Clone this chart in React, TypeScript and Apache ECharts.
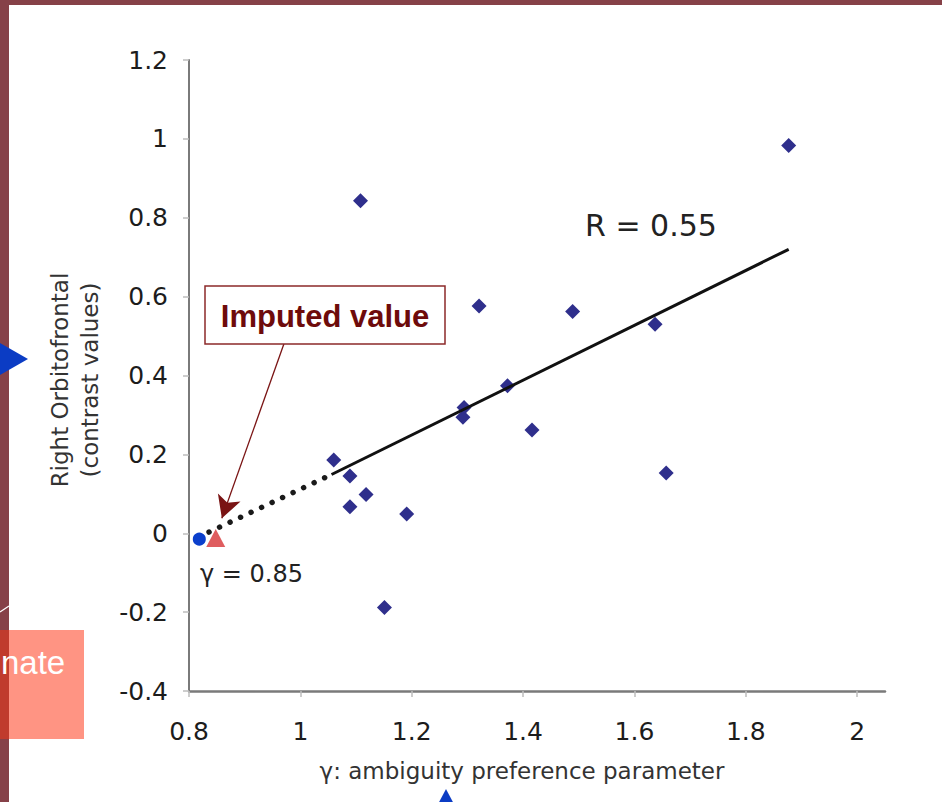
import React, { useEffect, useRef } from 'react';
import * as echarts from 'echarts';

// Subject-level estimates: ambiguity preference (γ) vs. right orbitofrontal contrast
const gammaValues = [1.108, 1.321, 1.489, 1.372, 1.294, 1.292, 1.416, 1.06, 1.089, 1.118, 1.089, 1.191, 1.151, 1.877, 1.637, 1.657];
const orbitofrontalValues = [0.843, 0.576, 0.562, 0.374, 0.319, 0.294, 0.262, 0.186, 0.145, 0.098, 0.067, 0.049, -0.188, 0.983, 0.53, 0.153];

// Axis ticks
const xTickValues = [0.8, 1, 1.2, 1.4, 1.6, 1.8, 2];
const yTickValues = [-0.4, -0.2, 0, 0.2, 0.4, 0.6, 0.8, 1, 1.2];

// Regression line (fitted range) and its extrapolation toward the imputed value
const fitLine = [[1.056, 0.149], [1.877, 0.72]];
const extrapolatedLine = [[0.836, 0.003], [1.05, 0.145]];

// Imputed value (γ = 0.85) and the extrapolated intercept point
const imputedPoint = [0.848, -0.012];
const interceptPoint = [0.8185, -0.015];

// Callout arrow, from the label box down to the imputed value
const arrowStart = [0.972, 0.486];
const arrowEnd = [0.859, 0.038];

const AXIS_FONT = '"DejaVu Sans", Verdana, sans-serif';
const LABEL_FONT = '"Liberation Sans", Arial, Helvetica, sans-serif';
const FRAME = '#864148';

export default function App() {
  const ref = useRef<HTMLDivElement>(null);

  useEffect(() => {
    if (!ref.current) return;
    const chart = echarts.init(ref.current, undefined, { renderer: 'svg' });

    const subjects = gammaValues.map((g, i) => [g, orbitofrontalValues[i]]);

    chart.setOption({
      animation: false,
      backgroundColor: '#ffffff',
      grid: { left: 189, right: 57, top: 60, bottom: 111, containLabel: false },
      xAxis: {
        type: 'value',
        min: 0.8,
        max: 2.05,
        axisLine: { onZero: false, lineStyle: { color: '#7a7a7a', width: 2.5 } },
        axisTick: { show: true, inside: false, length: 6, customValues: xTickValues, lineStyle: { color: '#bdbdbd', width: 1.5 } },
        axisLabel: { customValues: xTickValues, fontFamily: AXIS_FONT, fontSize: 25, color: '#1c1c1c', margin: 28 },
        splitLine: { show: false },
        name: 'γ: ambiguity preference parameter',
        nameLocation: 'middle',
        nameGap: 68,
        nameTextStyle: { fontFamily: AXIS_FONT, fontSize: 23, color: '#333333', padding: [0, 30, 0, 0] },
      },
      yAxis: {
        type: 'value',
        min: -0.4,
        max: 1.2,
        interval: 0.2,
        axisLine: { show: true, onZero: false, lineStyle: { color: '#7a7a7a', width: 2 } },
        axisTick: { show: true, inside: false, length: 6, customValues: yTickValues, lineStyle: { color: '#bdbdbd', width: 1.5 } },
        axisLabel: { customValues: yTickValues, fontFamily: AXIS_FONT, fontSize: 25, color: '#1c1c1c', margin: 21 },
        splitLine: { show: false },
      },
      series: [
        {
          name: 'Subjects',
          type: 'scatter',
          data: subjects,
          symbol: 'diamond',
          symbolSize: 15,
          itemStyle: { color: '#2f2f8c', opacity: 1 },
          z: 3,
        },
        {
          name: 'Fit',
          type: 'line',
          data: fitLine,
          showSymbol: false,
          symbol: 'none',
          lineStyle: { color: '#111111', width: 3 },
          z: 4,
        },
        {
          name: 'Extrapolation',
          type: 'line',
          data: extrapolatedLine,
          showSymbol: false,
          symbol: 'none',
          lineStyle: { color: '#1a1a1a', width: 5.5, type: [0.01, 11.6], cap: 'round' },
          z: 4,
          markLine: {
            silent: true,
            animation: false,
            symbol: ['none', 'arrow'],
            symbolSize: [18, 22],
            label: { show: false },
            lineStyle: { color: '#7a1414', width: 1.3, type: 'solid' },
            itemStyle: { color: '#6b0a0a' },
            data: [[{ coord: arrowStart }, { coord: arrowEnd }]],
          },
        },
        {
          name: 'Imputed',
          type: 'scatter',
          data: [imputedPoint],
          symbol: 'triangle',
          symbolSize: [19, 18],
          itemStyle: { color: '#df5d5f', opacity: 1 },
          z: 5,
        },
        {
          name: 'Intercept',
          type: 'scatter',
          data: [interceptPoint],
          symbol: 'circle',
          symbolSize: 15,
          itemStyle: { color: '#0b3fcc', borderColor: '#ffffff', borderWidth: 2, opacity: 1 },
          z: 6,
        },
      ],
      graphic: [
        // slide frame
        { type: 'rect', shape: { x: 0, y: 0, width: 942, height: 5 }, style: { fill: FRAME }, z: 10 },
        { type: 'rect', shape: { x: 0, y: 0, width: 9, height: 802 }, style: { fill: FRAME }, z: 10 },
        { type: 'line', shape: { x1: 0, y1: 612, x2: 9, y2: 606 }, style: { stroke: '#ffffff', lineWidth: 1.2 }, z: 11 },
        // neighbouring slide elements
        { type: 'rect', shape: { x: 9, y: 630, width: 75, height: 109 }, style: { fill: '#ff9483' }, z: 11 },
        { type: 'rect', shape: { x: 0, y: 630, width: 9, height: 109 }, style: { fill: '#c03b2d' }, z: 11 },
        {
          type: 'text', x: 1, y: 662, z: 12,
          style: { text: 'nate', fill: '#ffffff', font: `33px ${LABEL_FONT}`, align: 'left', verticalAlign: 'middle' },
        },
        { type: 'polygon', shape: { points: [[0, 343], [28, 359], [0, 375]] }, style: { fill: '#0b3cc4' }, z: 12 },
        { type: 'polygon', shape: { points: [[446, 789], [437, 806], [455, 806]] }, style: { fill: '#0b3cc4' }, z: 12 },
        // y-axis title
        {
          type: 'text', x: 75, y: 380, rotation: Math.PI / 2, z: 12,
          style: {
            text: 'Right Orbitofrontal\n(contrast values)',
            fill: '#333333',
            font: `23px ${AXIS_FONT}`,
            lineHeight: 30,
            align: 'center',
            verticalAlign: 'middle',
          },
        },
        // correlation
        {
          type: 'text', x: 585, y: 225, z: 12,
          style: { text: 'R = 0.55', fill: '#222222', font: `30px ${AXIS_FONT}`, align: 'left', verticalAlign: 'middle' },
        },
        // imputed γ
        {
          type: 'text', x: 200, y: 574, z: 12,
          style: { text: 'γ = 0.85', fill: '#222222', font: `24px ${AXIS_FONT}`, align: 'left', verticalAlign: 'middle' },
        },
        // callout box
        {
          type: 'rect', shape: { x: 205, y: 286, width: 240, height: 58 }, z: 12,
          style: { fill: '#ffffff', stroke: '#8c2a2a', lineWidth: 1.5 },
        },
        {
          type: 'text', x: 325, y: 316, z: 13,
          style: { text: 'Imputed value', fill: '#6e0b0b', font: `bold 31px ${LABEL_FONT}`, align: 'center', verticalAlign: 'middle' },
        },
      ],
    });

    return () => chart.dispose();
  }, []);

  return (
    <div
      ref={ref}
      style={{ position: 'fixed', left: 0, top: 0, width: 942, height: 802 }}
    />
  );
}
